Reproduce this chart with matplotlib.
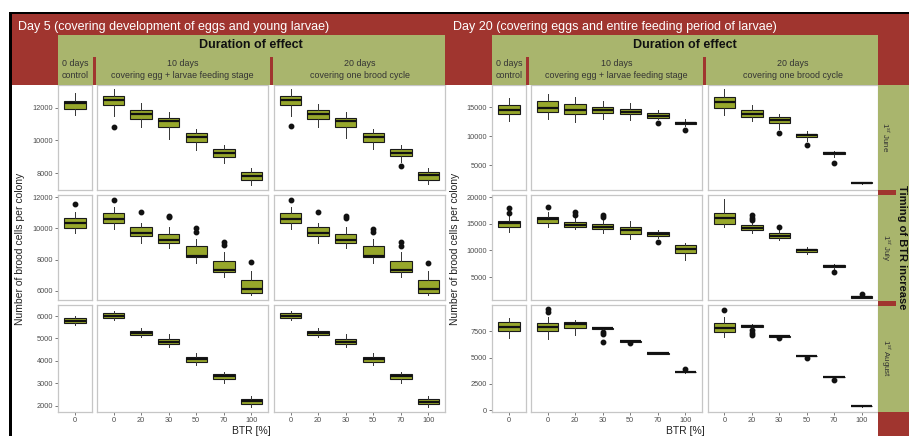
import matplotlib
matplotlib.use("Agg")
import matplotlib.pyplot as plt
from matplotlib.patches import Rectangle

plt.rcParams['font.family'] = ['Liberation Sans', 'DejaVu Sans']
plt.rcParams['mathtext.fontset'] = 'custom'
plt.rcParams['mathtext.rm'] = 'Liberation Sans'
plt.rcParams['mathtext.it'] = 'Liberation Sans:italic'
plt.rcParams['mathtext.bf'] = 'Liberation Sans:bold'

# each box: (lower whisker, q1, median, q3, upper whisker, [outliers])
btr_levels = ["0", "20", "30", "50", "70", "100"]
control_level = ["0"]

# Day 5 simulations
d5_june = {
    "ctrl": [(11570, 11940, 12300, 12430, 12920, [])],
    "10d": [(11510, 12180, 12490, 12730, 13160, [10840]),
            (10840, 11330, 11630, 11880, 12300, []),
            (10100, 10840, 11200, 11390, 11760, []),
            (9430, 9920, 10220, 10470, 10710, []),
            (8630, 9000, 9250, 9490, 9740, []),
            (7290, 7590, 7840, 8080, 8330, [])],
    "20d": [(11480, 12150, 12470, 12720, 13150, [10900]),
            (10850, 11300, 11600, 11850, 12250, []),
            (10150, 10850, 11180, 11400, 11750, []),
            (9450, 9900, 10200, 10450, 10700, []),
            (8650, 9020, 9230, 9480, 9720, [8450]),
            (7300, 7600, 7850, 8050, 8300, [])],
}
d5_july = {
    "ctrl": [(9700, 10020, 10340, 10660, 11040, [11550])],
    "10d": [(9950, 10340, 10600, 10980, 11360, [11800]),
            (9060, 9510, 9700, 10080, 10340, [11040]),
            (8740, 9060, 9250, 9640, 10080, [10700, 10800]),
            (7780, 8160, 8230, 8870, 9320, [9760, 10000]),
            (6890, 7210, 7340, 7910, 8480, [8930, 9120]),
            (5740, 5870, 6120, 6700, 7300, [7850])],
    "20d": [(9930, 10320, 10580, 10960, 11340, [11780]),
            (9080, 9500, 9720, 10060, 10320, [11020]),
            (8760, 9050, 9240, 9620, 10060, [10680, 10780]),
            (7800, 8150, 8250, 8850, 9300, [9740, 9980]),
            (6900, 7200, 7330, 7900, 8460, [8900, 9100]),
            (5750, 5880, 6100, 6680, 7280, [7800])],
}
d5_aug = {
    "ctrl": [(5600, 5690, 5780, 5910, 6000, [])],
    "10d": [(5820, 5910, 6000, 6130, 6220, []),
            (5070, 5160, 5250, 5330, 5470, []),
            (4620, 4760, 4850, 4980, 5200, []),
            (3820, 3960, 4090, 4180, 4360, []),
            (3020, 3200, 3330, 3420, 3510, []),
            (1960, 2090, 2200, 2310, 2450, [])],
    "20d": [(5830, 5920, 6010, 6120, 6210, []),
            (5080, 5170, 5240, 5320, 5460, []),
            (4630, 4750, 4840, 4970, 5190, []),
            (3830, 3950, 4080, 4170, 4350, []),
            (3000, 3190, 3320, 3410, 3520, []),
            (1970, 2080, 2190, 2300, 2440, [])],
}

# Day 20 simulations
d20_june = {
    "ctrl": [(12590, 13790, 14480, 15340, 16550, [])],
    "10d": [(12930, 14140, 14830, 16030, 17240, []),
            (12410, 13790, 14480, 15520, 16720, []),
            (12930, 13970, 14480, 15000, 16030, []),
            (12760, 13790, 14140, 14660, 15690, []),
            (12930, 13100, 13450, 13970, 14480, [12240]),
            (11720, 12070, 12160, 12410, 12930, [11030])],
    "20d": [(13600, 14800, 15860, 16700, 18100, []),
            (12600, 13300, 13800, 14500, 15400, []),
            (11200, 12200, 12760, 13300, 13800, [10600]),
            (9200, 9800, 10100, 10400, 10900, [8500]),
            (6400, 6900, 7070, 7200, 7500, [5400]),
            (1750, 1850, 1900, 2000, 2100, [])],
}
d20_july = {
    "ctrl": [(13440, 14380, 15130, 15500, 16440, [17000, 17900])],
    "10d": [(14380, 15130, 15880, 16250, 17190, [18130]),
            (14010, 14380, 14760, 15320, 16070, [16630, 17190]),
            (13250, 14010, 14380, 14940, 15690, [16250, 16630]),
            (12130, 13070, 13820, 14380, 15500, []),
            (12320, 12690, 13070, 13440, 13820, [11570]),
            (8200, 9510, 10260, 11010, 11380, [])],
    "20d": [(14400, 15000, 16100, 17000, 19600, []),
            (13200, 13800, 14200, 14800, 15600, [15800, 16000, 16600]),
            (11900, 12300, 12800, 13300, 13800, [14400]),
            (9400, 9700, 10000, 10300, 10700, []),
            (6500, 6800, 7000, 7200, 7400, [6000]),
            (1000, 1100, 1250, 1400, 1600, [1900])],
}
d20_aug = {
    "ctrl": [(6840, 7500, 7880, 8360, 8740, [])],
    "10d": [(6740, 7500, 7880, 8260, 8830, [9300, 9590]),
            (7120, 7790, 8170, 8360, 8550, []),
            (7600, 7700, 7790, 7850, 7850, [7400, 7200, 6450]),
            (6450, 6500, 6550, 6600, 6650, [6360]),
            (5350, 5380, 5410, 5440, 5470, []),
            (3550, 3580, 3600, 3630, 3660, [3890])],
    "20d": [(6930, 7400, 7790, 8260, 8830, [9500]),
            (7790, 7900, 7980, 8070, 8170, [7600, 7300, 7100]),
            (6950, 7000, 7030, 7060, 7100, [6840]),
            (5050, 5100, 5130, 5160, 5200, [4940]),
            (3050, 3100, 3130, 3160, 3200, [2850]),
            (320, 350, 380, 410, 440, [])],
}

d5_ylims = [(6960, 13400), (5425, 12130), (1730, 6490)]
d5_yticks = [[8000, 10000, 12000], [6000, 8000, 10000, 12000],
             [2000, 3000, 4000, 5000, 6000]]
d20_ylims = [(690, 18800), (700, 20400), (-190, 10000)]
d20_yticks = [[5000, 10000, 15000], [5000, 10000, 15000, 20000],
              [0, 2500, 5000, 7500]]

row_names = ["1$^{st}$ June", "1$^{st}$ July", "1$^{st}$ August"]

RED = "#a0352f"
GREEN = "#a9b56d"
BOX = "#97a72b"

W, H = 909, 436
fig = plt.figure(figsize=(W / 100, H / 100), dpi=100)
fig.patch.set_facecolor("white")


def fx(x):
    return x / W


def fy(y):
    return 1 - y / H


def block(x0, y0, x1, y1, color, z=1):
    fig.add_artist(Rectangle((fx(x0), fy(y1)), (x1 - x0) / W, (y1 - y0) / H,
                             transform=fig.transFigure, facecolor=color,
                             edgecolor="none", zorder=z))


def draw_panel(x0, x1, y0, y1, boxes, labels, ylim, yticks, show_y, show_x):
    ax = fig.add_axes([fx(x0), fy(y1), (x1 - x0) / W, (y1 - y0) / H])
    stats = [dict(whislo=b[0], q1=b[1], med=b[2], q3=b[3], whishi=b[4], fliers=b[5])
             for b in boxes]
    pos = list(range(len(boxes)))
    ax.bxp(stats, positions=pos, widths=0.78, patch_artist=True, showcaps=False,
           boxprops=dict(facecolor=BOX, edgecolor="#1a1a1a", linewidth=0.8),
           medianprops=dict(color="#111111", linewidth=1.6),
           whiskerprops=dict(color="#333333", linewidth=0.7),
           flierprops=dict(marker="o", markerfacecolor="#111111",
                           markeredgecolor="#111111", markersize=3.2))
    ax.set_xlim(-0.6, len(boxes) - 1 + 0.6)
    ax.set_ylim(*ylim)
    ax.set_yticks(yticks)
    ax.set_xticks(pos)
    ax.set_xticklabels(labels)
    for s in ax.spines.values():
        s.set_color("#c6c6c6")
        s.set_linewidth(0.9)
    ax.tick_params(length=2, width=0.5, color="#444444", labelsize=5.3,
                   labelcolor="#4d4d4d", pad=1.5)
    if not show_y:
        ax.tick_params(axis="y", left=False, labelleft=False)
    if not show_x:
        ax.tick_params(axis="x", bottom=False, labelbottom=False)
    return ax


rows_px = [(85, 190), (195, 300), (305, 412)]
left_cols = [(58, 92), (97, 268), (274, 445)]
right_cols = [(492, 526), (531, 702), (708, 878)]

for cols, data, ylims, yticks in [(left_cols, [d5_june, d5_july, d5_aug], d5_ylims, d5_yticks),
                                  (right_cols, [d20_june, d20_july, d20_aug], d20_ylims, d20_yticks)]:
    for r, (y0, y1) in enumerate(rows_px):
        for c, key in enumerate(["ctrl", "10d", "20d"]):
            labels = control_level if key == "ctrl" else btr_levels
            draw_panel(cols[c][0], cols[c][1], y0, y1, data[r][key], labels,
                       ylims[r], yticks[r], c == 0, r == 2)

# frame lines
block(9, 12, 909, 14.5, "black", 4)
block(9, 12, 11.5, 436, "black", 4)

# title band and column headers
block(11.5, 14.5, 909, 85, RED)
for x0, x1, seps in [(58, 445, [93, 270]), (492, 878, [526, 703])]:
    block(x0, 35, x1, 85, GREEN, 2)
    for s in seps:
        block(s, 57, s + 3, 85, RED, 3)

# row strip on the right
block(878, 85, 909, 412, GREEN, 2)
block(878, 412, 909, 436, RED, 2)
for y in [190, 301]:
    block(878, y, 896, y + 5, RED, 3)

fig.text(fx(18), fy(27), "Day 5 (covering development of eggs and young larvae)",
         color="white", fontsize=9, va="center", ha="left")
fig.text(fx(453), fy(27), "Day 20 (covering eggs and entire feeding period of larvae)",
         color="white", fontsize=9, va="center", ha="left")

for cols, cx in [(left_cols, 251), (right_cols, 685)]:
    fig.text(fx(cx), fy(45), "Duration of effect", fontsize=9, fontweight="bold",
             ha="center", va="center", color="#111111")
    heads = [("0 days", "control"), ("10 days", "covering egg + larvae feeding stage"),
             ("20 days", "covering one brood cycle")]
    for (a, b), (x0, x1) in zip(heads, cols):
        xm = (x0 + x1) / 2
        fig.text(fx(xm), fy(63), a, fontsize=6.4, ha="center", va="center", color="#333333")
        fig.text(fx(xm), fy(75), b, fontsize=6.4, ha="center", va="center", color="#333333")
    fig.text(fx(cx), fy(431), "BTR [%]", fontsize=7.5, ha="center", va="center", color="#222222")

for lx in [20, 455]:
    fig.text(fx(lx), fy(249), "Number of brood cells per colony", fontsize=7.5,
             rotation=90, ha="center", va="center", color="#222222")

for name, (y0, y1) in zip(row_names, rows_px):
    fig.text(fx(885), fy((y0 + y1) / 2), name, fontsize=5.8, rotation=-90,
             ha="center", va="center", color="#333333", zorder=5)
fig.text(fx(902), fy(247), "Timing of BTR increase", fontsize=8, fontweight="bold",
         rotation=-90, ha="center", va="center", color="#111111", zorder=5)

fig.savefig("out.png", dpi=100)
